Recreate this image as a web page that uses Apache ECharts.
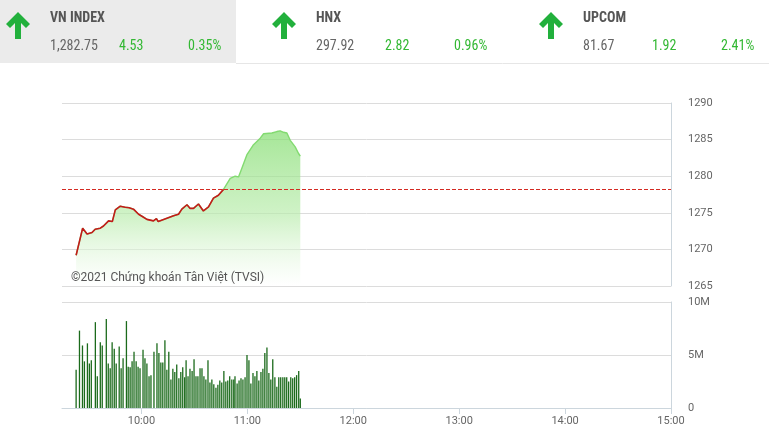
<!DOCTYPE html>
<html><head><meta charset="utf-8">
<script src="https://cdn.jsdelivr.net/npm/echarts@6/dist/echarts.min.js"></script>
<style>html,body{margin:0;padding:0;background:#fff}#c{width:769px;height:442px}</style>
</head><body><div id="c"></div>
<script>
// ---- data ----
const indexNames = ['VN INDEX', 'HNX', 'UPCOM'];
const indexValues = ['1,282.75', '297.92', '81.67'];
const indexChanges = ['4.53', '2.82', '1.92'];
const indexPercents = ['0.35%', '0.96%', '2.41%'];
const refValue = 1278.22;
const timeTickValues = [600, 660, 720, 780, 840, 900]; // minutes since midnight
const timeTickLabels = ['10:00', '11:00', '12:00', '13:00', '14:00', '15:00'];
const priceTimes = [563, 566.7, 569.2, 572, 573.8, 576.7, 578.5, 581.4, 583.5, 585.2, 588, 590.8, 593, 595.5, 598.4, 600.5, 603.1, 606.8, 608.5, 609.5, 610.6, 614.4, 618.2, 621, 622.9, 625.8, 627.6, 629.5, 632.3, 635.1, 638, 640.8, 643.6, 646.5, 650.3, 653.1, 655, 656.9, 659.7, 663.5, 667.3, 669.2, 673.9, 676.7, 678.6, 680.5, 682.4, 684.3, 687.1, 689, 690];
const priceValues = [1269.2, 1272.9, 1272.1, 1272.3, 1272.75, 1272.9, 1273.2, 1273.9, 1273.8, 1275.4, 1275.9, 1275.75, 1275.7, 1275.5, 1274.8, 1274.5, 1274.1, 1273.9, 1274.2, 1273.8, 1273.9, 1274.25, 1274.6, 1274.8, 1275.5, 1276.1, 1275.6, 1275.6, 1276.2, 1275.25, 1275.8, 1277.0, 1277.4, 1278.2, 1279.7, 1280.0, 1279.9, 1281.1, 1282.9, 1284.3, 1285.2, 1285.8, 1285.9, 1286.1, 1286.2, 1286.0, 1285.9, 1284.9, 1284.0, 1283.1, 1282.75];
const volTimes = [563.0, 564.9, 566.6, 567.7, 569.4, 570.5, 571.6, 573.9, 575.0, 576.7, 577.8, 580.1, 581.2, 582.3, 583.4, 584.6, 585.7, 587.4, 588.5, 589.6, 591.5, 592.5, 593.6, 594.7, 595.8, 597.0, 598.1, 599.2, 600.9, 602.0, 603.1, 604.3, 605.4, 607.1, 608.8, 609.9, 611.0, 612.1, 613.3, 614.4, 615.5, 616.7, 617.8, 618.9, 620.0, 621.2, 622.3, 623.4, 624.5, 625.3, 626.4, 627.5, 628.7, 629.8, 630.9, 632.0, 633.2, 634.3, 635.4, 636.5, 637.7, 638.8, 639.9, 641.0, 642.2, 643.3, 644.4, 645.5, 646.7, 647.8, 648.9, 650.0, 651.2, 652.3, 653.0, 654.2, 655.3, 656.4, 657.5, 658.7, 659.8, 660.9, 662.0, 663.2, 664.3, 665.4, 666.5, 667.7, 668.8, 669.9, 671.1, 672.2, 673.3, 674.4, 675.6, 676.7, 677.8, 678.9, 680.1, 681.2, 682.3, 683.4, 684.6, 685.7, 686.8, 687.9, 689.1, 690.0];
const volValues = [3.6, 7.3, 5.9, 4.4, 6.1, 4.2, 4.5, 8.1, 3.0, 6.2, 5.9, 8.4, 4.2, 3.75, 6.2, 5.6, 4.2, 5.8, 3.75, 4.7, 8.2, 3.9, 3.85, 4.4, 5.3, 4.4, 3.9, 3.75, 5.5, 4.7, 4.2, 3.0, 3.1, 5.3, 6.1, 5.2, 4.3, 4.3, 6.4, 3.6, 5.3, 2.7, 3.7, 3.4, 4.1, 2.8, 3.4, 3.85, 2.9, 4.5, 3.0, 3.7, 3.5, 4.6, 3.0, 3.0, 3.75, 3.75, 3.0, 2.7, 4.5, 2.4, 2.7, 2.25, 1.9, 2.2, 2.6, 2.4, 3.5, 2.5, 2.6, 3.0, 2.7, 2.7, 3.0, 2.3, 2.6, 2.8, 2.7, 2.9, 5.0, 4.5, 2.3, 3.3, 3.0, 3.5, 2.6, 3.4, 3.7, 5.2, 5.7, 3.3, 2.7, 4.6, 2.9, 2.0, 2.9, 2.9, 2.9, 2.9, 2.9, 2.5, 2.9, 2.8, 2.9, 3.1, 3.5, 0.9];
const watermark = '©2021 Chứng khoán Tân Việt (TVSI)';

// ---- build ----
const chart = echarts.init(document.getElementById('c'), null, {renderer: 'canvas'});
const UP = '#22b03c';
const TXT_GREEN = '#33b833';
const headerX = [50, 316, 583];
const FONT = '"Roboto Condensed", "Liberation Sans Narrow", Roboto, sans-serif';
const graphics = [
  {type: 'rect', shape: {x: 0, y: 0, width: 236, height: 63}, style: {fill: '#ebebeb'}, silent: true},
  {type: 'line', shape: {x1: 236, y1: 63.5, x2: 769, y2: 63.5}, style: {stroke: '#e6e6e6', lineWidth: 1}, silent: true}
];
indexNames.forEach((n, i) => {
  const x = headerX[i];
  const ax = x - 32;
  graphics.push({type: 'polygon', shape: {points: [[ax, 12], [ax + 12, 24], [ax + 8, 28], [ax + 3, 23], [ax + 3, 39], [ax - 3, 39], [ax - 3, 23], [ax - 8, 28], [ax - 12, 24]]}, style: {fill: UP}, silent: true});
  graphics.push({type: 'text', style: {x: x, y: 18, text: n, fill: '#555', font: 'bold 14px ' + FONT, textVerticalAlign: 'middle'}, silent: true});
  graphics.push({type: 'text', style: {x: x, y: 46, text: indexValues[i], fill: '#666', font: '14px ' + FONT, textVerticalAlign: 'middle'}, silent: true});
  graphics.push({type: 'text', style: {x: x + 69, y: 46, text: indexChanges[i], fill: TXT_GREEN, font: '14px ' + FONT, textVerticalAlign: 'middle'}, silent: true});
  graphics.push({type: 'text', style: {x: x + 138, y: 46, text: indexPercents[i], fill: TXT_GREEN, font: '14px ' + FONT, textVerticalAlign: 'middle'}, silent: true});
});
graphics.push({type: 'text', style: {x: 71, y: 278, text: watermark, fill: '#555', font: '12px Roboto, sans-serif', textVerticalAlign: 'middle'}, silent: true, z: 10});

// red segment: from the open until the index first reaches the reference level
const crossIdx = priceValues.findIndex(v => v >= refValue - 0.05);
const redData = priceTimes.slice(0, crossIdx + 1).map((t, i) => [t, priceValues[i]]);
const allData = priceTimes.map((t, i) => [t, priceValues[i]]);

const labelStyle = {color: '#666', fontSize: 11, fontFamily: 'Roboto, sans-serif'};
const option = {
  animation: false,
  backgroundColor: '#fff',
  graphic: graphics,
  grid: [
    {left: 62, right: 98, top: 103, height: 183},
    {left: 62, right: 98, top: 302, bottom: 34}
  ],
  xAxis: [
    {type: 'value', gridIndex: 0, min: 555, max: 900, axisLine: {show: false}, axisTick: {show: false}, axisLabel: {show: false}, splitLine: {show: false}},
    {type: 'value', gridIndex: 1, min: 555, max: 900,
      axisLine: {show: true, lineStyle: {color: '#ccd6dd'}},
      axisTick: {show: true, length: 6, lineStyle: {color: '#ccd6dd'}, customValues: timeTickValues},
      axisLabel: Object.assign({customValues: timeTickValues, formatter: v => timeTickLabels[timeTickValues.indexOf(v)] || '', margin: 8}, labelStyle),
      splitLine: {show: false}}
  ],
  yAxis: [
    {type: 'value', gridIndex: 0, position: 'right', min: 1265, max: 1290, interval: 5,
      axisLine: {show: true, lineStyle: {color: '#ccd6dd'}}, axisTick: {show: false},
      axisLabel: Object.assign({margin: 17, formatter: v => String(v)}, labelStyle),
      splitLine: {show: true, lineStyle: {color: '#dcdcdc'}}},
    {type: 'value', gridIndex: 1, position: 'right', min: 0, max: 10, interval: 5,
      axisLine: {show: true, lineStyle: {color: '#ccd6dd'}}, axisTick: {show: false},
      axisLabel: Object.assign({margin: 17, formatter: v => v === 0 ? '0' : v + 'M'}, labelStyle),
      splitLine: {show: true, lineStyle: {color: '#dcdcdc'}}}
  ],
  series: [
    {type: 'line', xAxisIndex: 0, yAxisIndex: 0, showSymbol: false, symbol: 'none',
      data: allData,
      lineStyle: {width: 1.4, color: '#82da70'},
      areaStyle: {color: new echarts.graphic.LinearGradient(0, 0, 0, 1, [
        {offset: 0, color: 'rgba(128,220,108,1)'},
        {offset: 0.55, color: 'rgba(185,236,172,0.95)'},
        {offset: 1, color: 'rgba(255,255,255,0.6)'}
      ])},
      markLine: {silent: true, symbol: 'none', label: {show: false},
        lineStyle: {color: '#d42a22', type: [4, 2], width: 1, opacity: 1},
        data: [{yAxis: refValue}]}
    },
    {type: 'line', xAxisIndex: 0, yAxisIndex: 0, showSymbol: false, symbol: 'none',
      data: redData, z: 3,
      lineStyle: {width: 1.6, color: '#c41a1a'}},
    {type: 'bar', xAxisIndex: 1, yAxisIndex: 1, barWidth: 1.3,
      itemStyle: {color: '#1b6a1b'},
      data: volTimes.map((t, i) => [t, volValues[i]])}
  ]
};
chart.setOption(option);
</script></body></html>
